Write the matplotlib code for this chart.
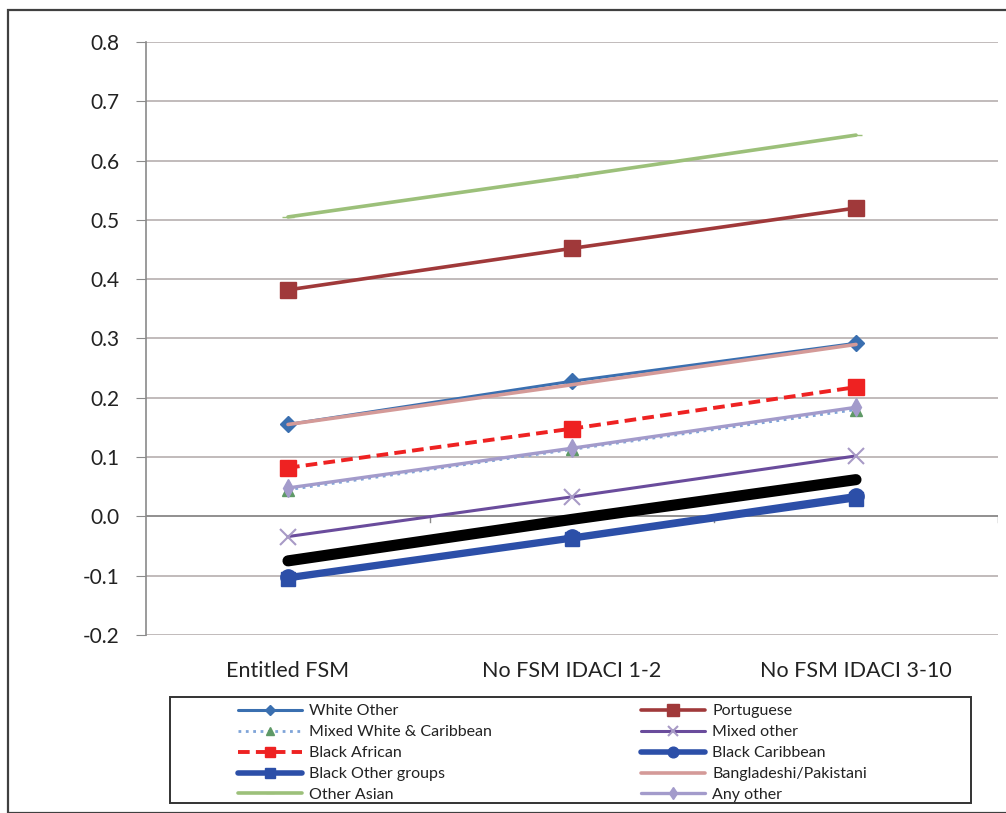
import matplotlib
matplotlib.use("Agg")
import matplotlib.pyplot as plt
from matplotlib.patches import Rectangle
import numpy as np

plt.rcParams['font.family'] = ['Lato', 'DejaVu Sans']

categories = ["Entitled FSM", "No FSM IDACI 1-2", "No FSM IDACI 3-10"]

white_other = [0.155, 0.228, 0.292]
portuguese = [0.382, 0.452, 0.520]
mixed_white_caribbean = [0.045, 0.113, 0.180]
mixed_other = [-0.034, 0.033, 0.102]
black_african = [0.082, 0.148, 0.218]
black_caribbean = [-0.102, -0.035, 0.035]
black_other = [-0.105, -0.038, 0.030]
bangladeshi_pakistani = [0.155, 0.222, 0.290]
other_asian = [0.505, 0.573, 0.643]
any_other = [0.048, 0.115, 0.184]
overall = [-0.075, -0.005, 0.062]

yticks = [-0.2, -0.1, 0.0, 0.1, 0.2, 0.3, 0.4, 0.5, 0.6, 0.7, 0.8]
ytick_labels = ["-0.2", "-0.1", "0.0", "0.1", "0.2", "0.3", "0.4", "0.5", "0.6", "0.7", "0.8"]

W, H = 1006, 813
fig = plt.figure(figsize=(W / 100, H / 100), dpi=100)
fig.patches.append(Rectangle((8 / W, 0), 1.2, 1 - 10 / H, transform=fig.transFigure,
                             fill=False, edgecolor='#404040', linewidth=1.6))

ax = fig.add_axes([146 / W, 1 - 635 / H, (998 - 146) / W, (635 - 42) / H])
x = np.arange(len(categories)) + 0.5

series = [
    ("White Other", white_other, dict(color='#3A6FB0', marker='D', ms=8, lw=2.2, ls='-')),
    ("Portuguese", portuguese, dict(color='#A0393A', marker='s', ms=12, lw=2.6, ls='-')),
    ("Mixed White & Caribbean", mixed_white_caribbean,
     dict(color='#7FA4D8', marker='^', ms=9, lw=2.0, ls=':', mfc='#5E9966', mec='#5E9966')),
    ("Mixed other", mixed_other, dict(color='#6A4C9C', marker='x', ms=11, lw=2.2, ls='-',
                                       mec='#A89AC6', mew=1.5)),
    ("Black African", black_african, dict(color='#EE2222', marker='s', ms=11, lw=2.8, ls=(0, (3, 1.6)))),
    ("Black Caribbean", black_caribbean, dict(color='#2C4FA8', marker='o', ms=11, lw=4.0, ls='-')),
    ("Black Other groups", black_other, dict(color='#2C4FA8', marker='s', ms=10, lw=4.0, ls='-')),
    ("Bangladeshi/Pakistani", bangladeshi_pakistani, dict(color='#D49A98', marker=None, lw=2.6, ls='-')),
    ("Other Asian", other_asian, dict(color='#9CC07A', marker='_', ms=8, lw=2.6, ls='-')),
    ("Any other", any_other, dict(color='#A39BCB', marker='d', ms=9, lw=2.4, ls='-')),
]

handles = {}
for name, vals, kw in series:
    h, = ax.plot(x, vals, label=name, solid_capstyle='round', **kw)
    handles[name] = h

ax.plot(x, overall, color='black', lw=8, solid_capstyle='round', zorder=3)

ax.set_xlim(0, 3)
ax.set_ylim(-0.2, 0.8)
ax.set_yticks(yticks)
ax.set_yticklabels(ytick_labels)
ax.yaxis.grid(True, color='#B0A8A8', lw=1.1)
ax.set_axisbelow(True)
ax.axhline(0, color='#8A8A8A', lw=1.2, zorder=1)
for b in range(1, 4):
    ax.plot([b, b], [0, -0.01], color='#8A8A8A', lw=1.0, zorder=1)

for s in ['top', 'right', 'bottom']:
    ax.spines[s].set_visible(False)
ax.spines['left'].set_color('#8A8A8A')
ax.spines['left'].set_linewidth(1.2)
ax.tick_params(axis='y', direction='out', length=7, color='#8A8A8A', labelsize=15, pad=12,
               labelcolor='#222222')
ax.set_xticks(x)
ax.set_xticklabels(categories)
ax.tick_params(axis='x', length=0, labelsize=15.5, pad=19, labelcolor='#222222')

# legend frame
fig.patches.append(Rectangle((170 / W, 1 - 803 / H), (971 - 170) / W, (803 - 697) / H,
                             transform=fig.transFigure, fill=False, edgecolor='#333333',
                             linewidth=1.4))

col1 = ["White Other", "Mixed White & Caribbean", "Black African", "Black Other groups", "Other Asian"]
col2 = ["Portuguese", "Mixed other", "Black Caribbean", "Bangladeshi/Pakistani", "Any other"]
legkw = dict(loc='lower left', fontsize=11.5, frameon=False, handlelength=4.0,
             handletextpad=0.45, borderaxespad=0, labelspacing=0.42, borderpad=0,
             markerscale=0.7)
for cols, x0 in [(col1, 238), (col2, 641)]:
    lg = fig.legend([handles[n] for n in cols], cols,
                    bbox_to_anchor=(x0 / W, 1 - 802 / H), **legkw)
    for t in lg.get_texts():
        t.set_color('#222222')

fig.savefig("out.png", dpi=100)
